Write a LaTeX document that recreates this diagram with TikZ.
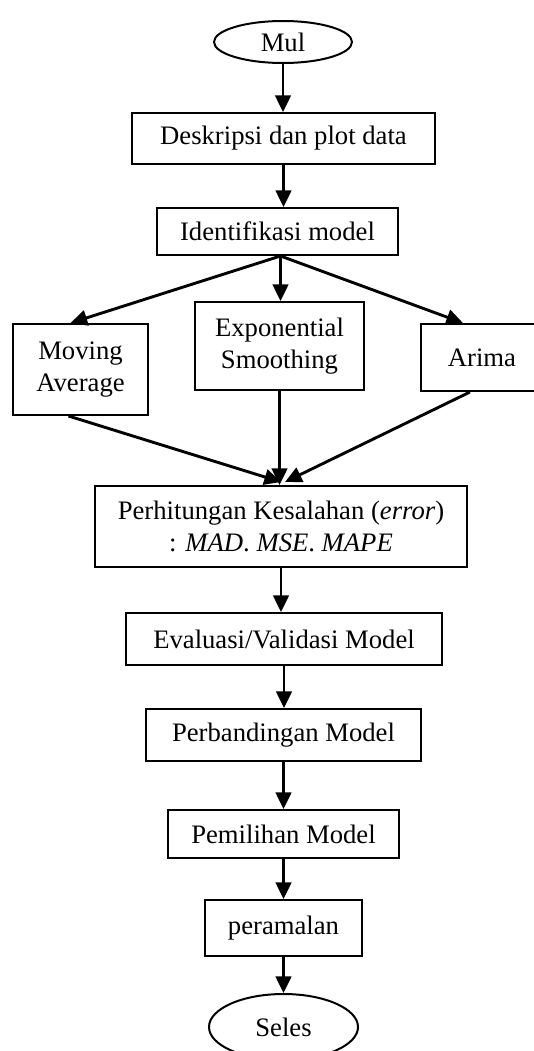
\documentclass[tikz,border=0pt]{standalone}
\usepackage{fontspec}
\setmainfont{Liberation Serif}
\usetikzlibrary{shapes.geometric,arrows.meta,calc}

\begin{document}
\begin{tikzpicture}[x=0.45pt,y=-0.45pt,
  kotak/.style={draw,line width=0.9pt,inner sep=0pt,align=center,font=\fontsize{12}{14.5}\selectfont},
  oval/.style={kotak,ellipse},
  panah/.style={-{Triangle[width=7pt,length=7.5pt]},line width=1.3pt}]
  \useasboundingbox (0,0) rectangle (534,1051);
  % start and top boxes
  \node[oval,minimum width=62.1pt,minimum height=18.9pt] (mulai) at (283,42) {Mul};
  \node[kotak,minimum width=136.35pt,minimum height=22.95pt] (deskripsi) at (283.5,138.5) {Deskripsi dan plot data};
  \node[kotak,minimum width=108.45pt,minimum height=21.15pt] (identifikasi) at (277.5,231.5) {Identifikasi model};
  % the three models
  \node[kotak,minimum width=60.75pt,minimum height=40.95pt] (ma) at (80.5,369.5) {Moving\\Average};
  \node[kotak,minimum width=76.05pt,minimum height=39.6pt] (es) at (279.5,346) {Exponential\\Smoothing};
  \node[kotak,minimum width=54.9pt,minimum height=30.15pt] (arima) at (482,357.5) {Arima};
  % error and the rest
  \node[kotak,minimum width=167.4pt,minimum height=36.45pt] (error) at (281,526.5) {Perhitungan Kesalahan (\textit{error})\\: \textit{MAD}. \textit{MSE}. \textit{MAPE}};
  \node[kotak,minimum width=142.2pt,minimum height=23.4pt] (evaluasi) at (284,639) {Evaluasi/Validasi Model};
  \node[kotak,minimum width=123.75pt,minimum height=23.4pt] (perbandingan) at (283.5,735) {Perbandingan Model};
  \node[kotak,minimum width=103.95pt,minimum height=21.6pt] (pemilihan) at (283.5,834) {Pemilihan Model};
  \node[kotak,minimum width=70.65pt,minimum height=25.2pt] (peramalan) at (283.5,928) {peramalan};
  \node[oval,minimum width=67.05pt,minimum height=29.7pt] (selesai) at (283.5,1027) {Seles};
  % end points of the slanted arrows
  \coordinate (idbawah) at ($(identifikasi.south)+(3,0)$);
  \coordinate (maatas) at ($(ma.north)+(-10,0)$);
  \coordinate (arimaatas) at ($(arima.north)+(-19,0)$);
  \coordinate (mabawah) at ($(ma.south)+(-12,0)$);
  \coordinate (arimabawah) at ($(arima.south)+(-12,0)$);
  \coordinate (erroratas) at ($(error.north)+(0,-3)$);
  % arrows
  \draw[panah] (mulai.south) -- (mulai.south |- deskripsi.north);
  \draw[panah] (deskripsi.south) -- (deskripsi.south |- identifikasi.north);
  \draw[panah] (idbawah) -- (maatas);   % to moving average
  \draw[panah] (idbawah) -- (idbawah |- es.north);
  \draw[panah] (idbawah) -- (arimaatas); % to arima
  \draw[panah] (mabawah) -- (erroratas);
  \draw[panah] (es.south) -- (es.south |- error.north);
  \draw[panah] (arimabawah) -- ($(erroratas)+(4,0)$);
  \draw[panah] (error.south) -- (error.south |- evaluasi.north);
  \draw[panah] (evaluasi.south) -- (evaluasi.south |- perbandingan.north);
  \draw[panah] (perbandingan.south) -- (perbandingan.south |- pemilihan.north);
  \draw[panah] (pemilihan.south) -- (pemilihan.south |- peramalan.north);
  \draw[panah] (peramalan.south) -- (peramalan.south |- selesai.north);
\end{tikzpicture}
\end{document}
